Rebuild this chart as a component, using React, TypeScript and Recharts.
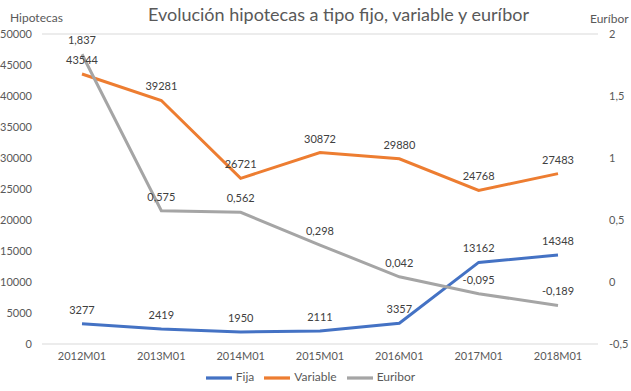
import { LineChart, Line, XAxis, YAxis, CartesianGrid, Legend, LabelList } from "recharts";

const periods = ["2012M01", "2013M01", "2014M01", "2015M01", "2016M01", "2017M01", "2018M01"];
const fija = [3277, 2419, 1950, 2111, 3357, 13162, 14348];
const variable = [43544, 39281, 26721, 30872, 29880, 24768, 27483];
const euribor = [1.837, 0.575, 0.562, 0.298, 0.042, -0.095, -0.189];

const leftTicks = [0, 5000, 10000, 15000, 20000, 25000, 30000, 35000, 40000, 45000, 50000];
const rightTicks = [-0.5, 0, 0.5, 1, 1.5, 2];
const seriesOrder = ["Fija", "Variable", "Euribor"];

const data = periods.map((p, i) => ({
  period: p,
  Fija: fija[i],
  Variable: variable[i],
  Euribor: euribor[i],
}));

const font = "Lato, 'Open Sans', sans-serif";
const tickStyle = { fontSize: 11, fontFamily: font, fill: "#595959" };
const labelStyle = { fontSize: 11, fontFamily: font, fill: "#404040" };

const comma = (v: number, digits?: number) =>
  (digits != null ? v.toFixed(digits) : String(v)).replace(".", ",");

export default function App() {
  return (
    <div style={{ position: "absolute", left: 0, top: 0, width: 631, height: 391, background: "#fff", fontFamily: font }}>
      <div style={{ position: "absolute", left: 0, width: 631, top: 3, textAlign: "center", fontSize: 18, color: "#595959", paddingLeft: 46, boxSizing: "border-box" }}>
        Evolución hipotecas a tipo fijo, variable y euríbor
      </div>
      <div style={{ position: "absolute", left: 10, top: 10, fontSize: 12, color: "#595959" }}>Hipotecas</div>
      <div style={{ position: "absolute", left: 590, top: 11, fontSize: 12, color: "#595959" }}>Euríbor</div>
      <LineChart width={631} height={391} data={data} margin={{ top: 34, right: 0, left: 0, bottom: 0 }}>
        <CartesianGrid stroke="#D9D9D9" vertical={false} />
        <XAxis
          dataKey="period"
          tick={tickStyle}
          tickLine={false}
          axisLine={false}
          height={21}
          padding={{ left: 40, right: 40 }}
          interval={0}
        />
        <YAxis
          yAxisId="left"
          width={42}
          domain={[0, 50000]}
          ticks={leftTicks}
          tick={tickStyle}
          tickLine={false}
          axisLine={false}
          tickMargin={4}
          interval={0}
        />
        <YAxis
          yAxisId="right"
          orientation="right"
          width={33}
          domain={[-0.5, 2]}
          ticks={rightTicks}
          tick={{ ...tickStyle, textAnchor: "start" }}
          tickLine={false}
          axisLine={false}
          tickMargin={5}
          interval={0}
          tickFormatter={(v: number) => comma(v)}
        />
        <Legend
          verticalAlign="bottom"
          iconType="plainline"
          iconSize={26}
          itemSorter={(item: any) => seriesOrder.indexOf(String(item.value))}
          wrapperStyle={{ fontSize: 12, fontFamily: font, color: "#595959" }}
          formatter={(value: string) => <span style={{ color: "#595959" }}>{value}</span>}
        />
        <Line yAxisId="left" dataKey="Fija" stroke="#4472C4" strokeWidth={3} dot={false} isAnimationActive={false}>
          <LabelList dataKey="Fija" position="top" offset={10} style={labelStyle} />
        </Line>
        <Line yAxisId="left" dataKey="Variable" stroke="#ED7D31" strokeWidth={3} dot={false} isAnimationActive={false}>
          <LabelList dataKey="Variable" position="top" offset={10} style={labelStyle} />
        </Line>
        <Line yAxisId="right" dataKey="Euribor" stroke="#A5A5A5" strokeWidth={3} dot={false} isAnimationActive={false}>
          <LabelList
            dataKey="Euribor"
            position="top"
            offset={10}
            style={labelStyle}
            formatter={(v: any) => comma(Number(v), 3)}
          />
        </Line>
      </LineChart>
    </div>
  );
}
